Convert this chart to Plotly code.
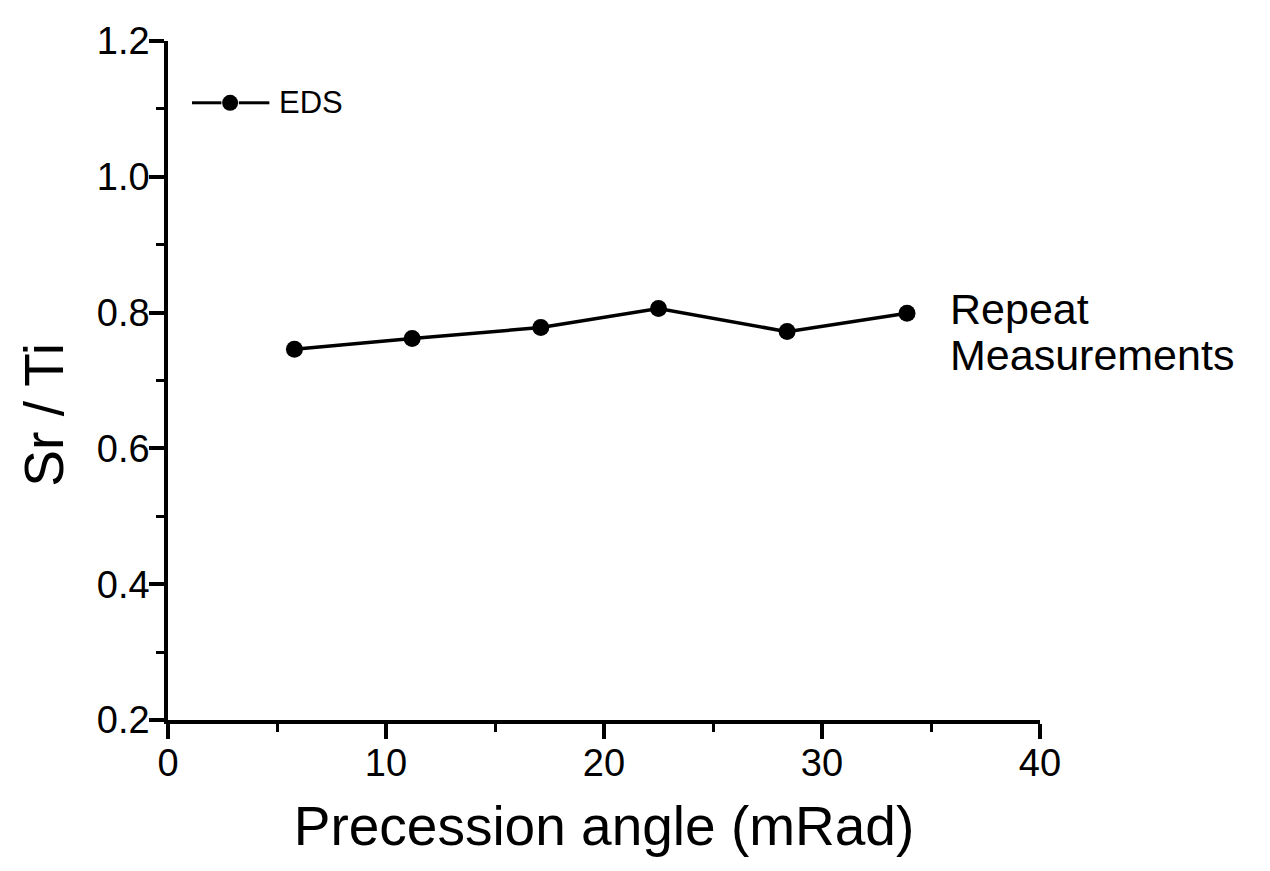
import plotly.graph_objects as go

angle = [5.8, 11.2, 17.1, 22.5, 28.4, 33.9]
sr_ti = [0.746, 0.762, 0.778, 0.806, 0.772, 0.799]
series_name = "EDS"
x_title = "Precession angle (mRad)"
y_title = "Sr / Ti"
note_lines = ["Repeat", "Measurements"]

FONT = "Liberation Sans, Arial, sans-serif"

fig = go.Figure()
fig.add_trace(go.Scatter(
    x=angle, y=sr_ti, mode="lines+markers", name=series_name,
    line=dict(color="black", width=3.5),
    marker=dict(color="black", size=17),
    showlegend=False,
))

# legend drawn Origin-style
ly = 1.109
fig.add_shape(type="line", x0=1.1, x1=2.45, y0=ly, y1=ly, line=dict(color="black", width=3))
fig.add_shape(type="line", x0=3.25, x1=4.65, y0=ly, y1=ly, line=dict(color="black", width=3))
fig.add_trace(go.Scatter(x=[2.85], y=[ly], mode="markers", marker=dict(color="black", size=16),
                         showlegend=False, hoverinfo="skip"))
fig.add_annotation(x=5.0, y=ly, text=series_name, showarrow=False, xanchor="left",
                   font=dict(size=31, color="black", family=FONT))

for i, line in enumerate(note_lines):
    fig.add_annotation(x=35.8, y=sr_ti[-1], text=line, showarrow=False, xanchor="left",
                       yanchor="middle", yshift=4 - 46 * i,
                       font=dict(size=43, color="black", family=FONT))

# y-axis title (placed a bit below the axis centre, as in the original)
fig.add_annotation(xref="paper", yref="paper", x=-0.142, y=0.45, text=y_title,
                   textangle=-90, showarrow=False, xanchor="center", yanchor="middle",
                   borderpad=0,
                   font=dict(size=55, color="black", family=FONT))

axis_common = dict(
    showgrid=False, zeroline=False, showline=True, linecolor="black", linewidth=3.5,
    ticks="outside", ticklen=15, tickwidth=3.5, tickcolor="black",
    tickfont=dict(size=38, color="black", family=FONT),
    ticklabelstandoff=-8,
)
fig.update_xaxes(range=[0, 40], dtick=10, title_text=x_title, title_standoff=24,
                 title_font=dict(size=55, color="black", family=FONT),
                 minor=dict(ticks="outside", ticklen=8, tickwidth=3, dtick=5, tickcolor="black"),
                 **axis_common)
fig.update_yaxes(range=[0.2, 1.2], dtick=0.2, tickformat=".1f",
                 minor=dict(ticks="outside", ticklen=8, tickwidth=3, dtick=0.1, tickcolor="black"),
                 **axis_common)

fig.update_layout(
    width=1270, height=871,
    margin=dict(l=160, r=238, t=22, b=159),
    plot_bgcolor="white", paper_bgcolor="white",
    font=dict(family=FONT, color="black"),
)
fig.write_html("out.html")
